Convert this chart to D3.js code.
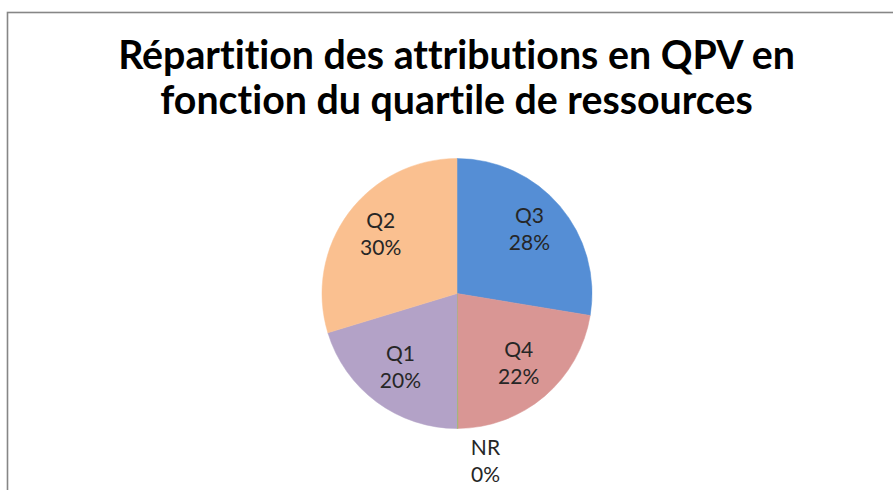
<!DOCTYPE html>
<html>
<head>
<meta charset="utf-8">
<script src="https://cdn.jsdelivr.net/npm/d3@7"></script>
<style>
  body { margin: 0; background: #fff; }
  svg { display: block; font-family: Lato, "Open Sans", sans-serif; font-variant-ligatures: none; font-feature-settings: "liga" 0; }
</style>
</head>
<body>
<svg id="chart"></svg>
<script>
// data (clockwise from 12 o'clock)
const categories = ['Q3', 'Q4', 'NR', 'Q1', 'Q2'];
const shares = [27.6, 22.3, 0.1, 20.3, 29.7];
const colors = ['#558ED5', '#D99694', '#9BBB59', '#B3A2C7', '#FAC090'];
const titleLines = ['Répartition des attributions en QPV en', 'fonction du quartile de ressources'];

const width = 893, height = 490;
const cx = 457, cy = 293.5, radius = 135;

const $svg = d3.select('#chart')
	.attr('width', width)
	.attr('height', height);

// chart frame (only top and left edges visible)
$svg.append('rect')
	.attr('x', 7.5)
	.attr('y', 12.5)
	.attr('width', 1000)
	.attr('height', 1000)
	.attr('fill', 'none')
	.attr('stroke', '#868686')
	.attr('stroke-width', 1.6);

// title, sized to the reference width
const $title = $svg.append('g').attr('class', 'title');
const titleBaselines = [69, 114];
titleLines.forEach((t, i) => {
	$title.append('text')
		.attr('x', 456.5)
		.attr('y', titleBaselines[i])
		.attr('text-anchor', 'middle')
		.attr('font-weight', 'bold')
		.attr('font-size', 36)
		.attr('fill', '#000')
		.text(t);
});
const w0 = $title.select('text').node().getComputedTextLength();
$title.selectAll('text').attr('font-size', 36 * 677 / w0);

const data = categories.map((c, i) => ({name: c, value: shares[i], color: colors[i]}));
const total = d3.sum(shares);

const pie = d3.pie()
	.sort(null)
	.value(d => d.value);

const arc = d3.arc()
	.innerRadius(0)
	.outerRadius(radius);

const labelArc = d3.arc()
	.innerRadius(95)
	.outerRadius(95);

const outerArc = d3.arc()
	.innerRadius(radius + 8)
	.outerRadius(radius + 8);

const arcs = pie(data);

const $vis = $svg.append('g')
	.attr('transform', 'translate(' + cx + ',' + cy + ')');

$vis.selectAll('path.slice')
	.data(arcs)
	.enter()
	.append('path')
	.attr('class', 'slice')
	.attr('d', arc)
	.attr('fill', d => d.data.color)
	.attr('stroke', d => d.data.color)
	.attr('stroke-width', 0.5);

const $labels = $vis.selectAll('g.label')
	.data(arcs)
	.enter()
	.append('g')
	.attr('class', 'label')
	.attr('transform', d => {
		if (d.data.value < 1) {
			// tiny slice -> label goes outside
			const p = outerArc.centroid(d);
			return 'translate(' + (p[0] + 28) + ',' + (p[1] + 28) + ')';
		}
		const p = labelArc.centroid(d);
		return 'translate(' + p[0] + ',' + p[1] + ')';
	});

$labels.append('text')
	.attr('text-anchor', 'middle')
	.attr('font-size', 21)
	.attr('fill', '#262626')
	.selectAll('tspan')
	.data(d => [d.data.name, Math.round(d.data.value / total * 100) + '%'])
	.enter()
	.append('tspan')
	.attr('x', 0)
	.attr('y', (d, i) => i === 0 ? -9 : 18)
	.text(d => d);
</script>
</body>
</html>
